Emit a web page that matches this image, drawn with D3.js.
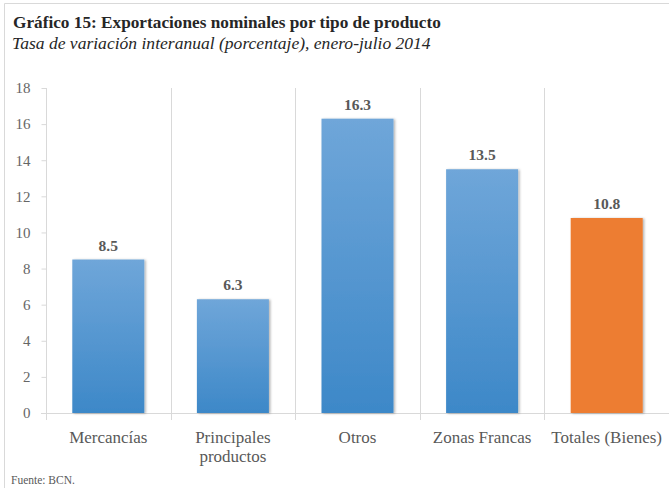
<!DOCTYPE html>
<html>
<head>
<meta charset="utf-8">
<script src="https://cdn.jsdelivr.net/npm/d3@7"></script>
<style>
  html, body { margin: 0; padding: 0; background: #fff; }
  svg { display: block; }
  svg text { font-family: "Liberation Serif", "Times New Roman", serif; }
</style>
</head>
<body>
<svg id="chart" width="669" height="488"></svg>
<script>
// Export growth by product type, January–July 2014 (year-on-year %)
const categories = ["Mercancías", "Principales productos", "Otros", "Zonas Francas", "Totales (Bienes)"];
const categoryLines = [["Mercancías"], ["Principales", "productos"], ["Otros"], ["Zonas Francas"], ["Totales (Bienes)"]];
const values = [8.5, 6.3, 16.3, 13.5, 10.8];
const isTotal = [false, false, false, false, true];
const yTicks = [0, 2, 4, 6, 8, 10, 12, 14, 16, 18];

const title = "Gráfico 15: Exportaciones nominales por tipo de producto";
const subtitle = "Tasa de variación interanual (porcentaje), enero-julio 2014";
const source = "Fuente: BCN.";

const svg = d3.select("#chart");
const W = 669, H = 488;
const margin = { left: 46, right: 0, top: 88 };
const plotBottom = 413;

// Outer frame (top and left edges)
svg.append("path")
  .attr("d", `M4.5,${H} L4.5,3.5 L${W},3.5`)
  .attr("fill", "none").attr("stroke", "#d9d9d9").attr("stroke-width", 1);

// Titles, sized to span their line
function fitText(sel, targetWidth) {
  const size = parseFloat(sel.attr("font-size"));
  const w = sel.node().getComputedTextLength();
  sel.attr("font-size", (size * targetWidth / w).toFixed(2));
}
const t = svg.append("text").attr("x", 13).attr("y", 28)
  .attr("font-size", 20).attr("font-weight", "bold").attr("fill", "#262626")
  .text(title);
fitText(t, 428);
const st = svg.append("text").attr("x", 12).attr("y", 49)
  .attr("font-size", 16).attr("font-style", "italic").attr("fill", "#262626")
  .text(subtitle);
fitText(st, 419);

// Scales
const x = d3.scaleBand().domain(categories).range([margin.left, W]).paddingInner(0).paddingOuter(0);
const y = d3.scaleLinear().domain([0, 18]).range([plotBottom, margin.top]);
const barW = 72;

// Vertical category separators
const seps = d3.range(1, categories.length).map(i => margin.left + i * x.bandwidth());
svg.append("g").selectAll("line").data(seps).join("line")
  .attr("x1", d => Math.round(d) + 0.5).attr("x2", d => Math.round(d) + 0.5)
  .attr("y1", margin.top).attr("y2", plotBottom + 7)
  .attr("stroke", "#d9d9d9").attr("stroke-width", 1);

// Y axis
const yAxis = svg.append("g").attr("transform", `translate(${margin.left + 0.5},0)`)
  .call(d3.axisLeft(y).tickValues(yTicks).tickSize(5).tickPadding(11).tickFormat(d3.format("d")));
yAxis.attr("font-family", null);
yAxis.select(".domain").attr("d", `M0,${margin.top}V${plotBottom + 7}`).attr("stroke", "#d9d9d9");
yAxis.selectAll(".tick line").attr("stroke", "#d9d9d9");
yAxis.selectAll(".tick text").attr("fill", "#666").attr("font-size", 15);

// X axis baseline
svg.append("line").attr("x1", margin.left - 5).attr("x2", W)
  .attr("y1", plotBottom + 0.5).attr("y2", plotBottom + 0.5)
  .attr("stroke", "#d9d9d9");

// Gradient and shadow for bars
const defs = svg.append("defs");
const grad = defs.append("linearGradient").attr("id", "blueGrad")
  .attr("x1", 0).attr("y1", 0).attr("x2", 0).attr("y2", 1);
grad.append("stop").attr("offset", "0%").attr("stop-color", "#6fa6d9");
grad.append("stop").attr("offset", "100%").attr("stop-color", "#3d88c8");
const shadow = defs.append("filter").attr("id", "shadow")
  .attr("x", "-10%").attr("y", "-10%").attr("width", "130%").attr("height", "120%");
shadow.append("feDropShadow").attr("dx", 1.5).attr("dy", 0.5).attr("stdDeviation", 1.2)
  .attr("flood-color", "#000").attr("flood-opacity", 0.3);

// Bars
svg.append("g").selectAll("rect").data(categories).join("rect")
  .attr("x", d => x(d) + (x.bandwidth() - barW) / 2)
  .attr("width", barW)
  .attr("y", (d, i) => y(values[i]))
  .attr("height", (d, i) => plotBottom - y(values[i]))
  .attr("fill", (d, i) => isTotal[i] ? "#ed7d31" : "url(#blueGrad)")
  .attr("filter", "url(#shadow)");

// Value labels
svg.append("g").selectAll("text").data(categories).join("text")
  .attr("x", d => x(d) + x.bandwidth() / 2)
  .attr("y", (d, i) => y(values[i]) - 9)
  .attr("text-anchor", "middle")
  .attr("font-size", 15.5).attr("font-weight", "bold").attr("fill", "#595959")
  .text((d, i) => d3.format(".1f")(values[i]));

// Category labels
const cl = svg.append("g").selectAll("text").data(categories).join("text")
  .attr("x", d => x(d) + x.bandwidth() / 2)
  .attr("y", 443)
  .attr("text-anchor", "middle")
  .attr("font-size", 17).attr("fill", "#595959");
cl.each(function(d, i) {
  d3.select(this).selectAll("tspan").data(categoryLines[i]).join("tspan")
    .attr("x", x(d) + x.bandwidth() / 2)
    .attr("dy", (l, j) => j === 0 ? 0 : 19)
    .text(l => l);
});

// Source note
svg.append("text").attr("x", 11).attr("y", 484)
  .attr("font-size", 11.5).attr("fill", "#595959").text(source);
</script>
</body>
</html>
